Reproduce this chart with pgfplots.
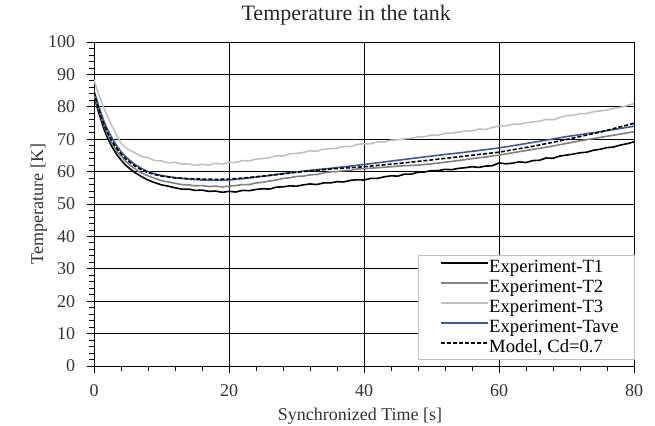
\documentclass[border=0pt]{standalone}
\usepackage{pgfplots}
\pgfplotsset{compat=1.18}
\usepackage{fontspec}
\setmainfont{Liberation Serif}
\definecolor{tave}{HTML}{3A5BA0}
\definecolor{ttwo}{HTML}{808080}
\definecolor{tthree}{HTML}{C0C0C0}
\begin{document}
\begin{tikzpicture}
\begin{axis}[
  scale only axis,
  width=405pt, height=243pt,
  xmin=0, xmax=80, ymin=0, ymax=100,
  xtick={0,20,...,80}, ytick={0,10,...,100},
  minor x tick num=4, minor y tick num=4,
  tick align=outside,
  major tick length=5pt, minor tick length=3.5pt,
  tick style={black, line width=0.6pt},
  xtick pos=bottom, ytick pos=left,
  grid=major,
  major grid style={black, line width=0.6pt},
  axis line style={black, line width=0.6pt},
  /pgf/number format/assume math mode=true,
  tick label style={font=\fontsize{13.5}{15}\selectfont, text=black!80},
  yticklabel style={anchor=east, inner sep=0pt, xshift=-9pt},
  xticklabel style={anchor=base, inner sep=0pt, yshift=-18pt},
  label style={font=\fontsize{13.5}{15}\selectfont, text=black!80},
  title style={font=\fontsize{16.5}{18}\selectfont, text=black!85,
    at={(axis description cs:0.467,1.0432)}, anchor=base, inner sep=0pt},
  title={Temperature in the tank},
  xlabel={Synchronized Time [s]},
  ylabel={Temperature [K]},
  xlabel style={at={(axis description cs:0.4926,-0.1667)}, anchor=base, inner sep=0pt},
  ylabel style={at={(axis description cs:-0.0944,0.5)}, anchor=base, inner sep=0pt},
  legend style={at={(rel axis cs:1.0015,0.0185)}, anchor=south east,
    draw=black!25, fill=white, font=\fontsize{14}{15}\selectfont,
    inner xsep=12pt, inner ysep=2pt, row sep=1pt, column sep=0.5pt,
    nodes={inner sep=0pt, text height=10.5pt, text depth=3.5pt},
    cells={anchor=west}},
  legend image code/.code={\path (0pt,0pt); \draw[#1] (4.5pt,3.5pt) -- (39.5pt,3.5pt);},
]
\addplot[black, line width=1.2pt] coordinates {
(0,83.5)(0.5,79.5)(1,76.2)(1.5,73)(2,70.4)(2.5,68.3)(3,66.5)(3.5,64.9)(4,63.6)(4.5,62.4)(5,61.4)(6,59.8)(7,58.5)(8,57.4)(9,56.6)(10,55.9)(11,55.5)(12,55.0)(13,54.6)(14,54.6)(15,54.2)(16,54.3)(17,53.9)(18,54.0)(19,53.6)(20,53.9)(21,53.7)(22,54.2)(23,54.1)(24,54.5)(25,54.7)(26,54.6)(27,55.2)(28,55.3)(29,55.6)(30,55.5)(31,55.9)(32,56.2)(33,56.0)(34,56.5)(35,56.5)(36,56.9)(37,56.8)(38,57.3)(39,57.5)(40,57.4)(41,57.9)(42,57.9)(43,58.4)(44,58.7)(45,58.6)(46,59.2)(47,59.2)(48,59.8)(49,59.9)(50,60.3)(51,60.3)(52,60.7)(53,60.6)(54,61.0)(55,61.2)(56,61.5)(57,61.3)(58,61.7)(59,61.8)(60,62.7)(61,62.4)(62,62.6)(63,63.0)(64,62.8)(65,63.4)(66,63.5)(67,64.2)(68,64.1)(69,64.8)(70,65.1)(71,65.4)(72,65.8)(73,66.0)(74,66.6)(75,66.9)(76,67.4)(77,67.6)(78,68.2)(79,68.6)(80,69.2)
};
\addlegendentry{Experiment-T1}
\addplot[ttwo, line width=1.2pt] coordinates {
(0,84)(0.5,80.2)(1,77)(1.5,74)(2,71.5)(2.5,69.4)(3,67.5)(3.5,66.0)(4,64.8)(4.5,63.6)(5,62.6)(6,60.9)(7,59.6)(8,58.7)(9,57.9)(10,57.2)(11,56.8)(12,56.4)(13,56.0)(14,55.9)(15,55.6)(16,55.7)(17,55.4)(18,55.5)(19,55.3)(20,55.5)(21,55.7)(22,56.0)(23,56.0)(24,56.5)(25,56.7)(26,57.1)(27,57.4)(28,57.9)(29,58.1)(30,58.5)(31,58.6)(32,59.0)(33,59.1)(34,59.6)(35,59.9)(36,60.0)(37,60.3)(38,60.4)(39,60.8)(40,60.9)(42,61.2)(44,61.5)(46,61.8)(48,62.0)(50,62.4)(52,62.9)(54,63.4)(56,64.0)(58,64.5)(60,65.1)(62,65.8)(64,66.5)(66,67.2)(68,67.9)(70,68.7)(72,69.5)(74,70.2)(76,70.9)(78,71.6)(80,72.3)
};
\addlegendentry{Experiment-T2}
\addplot[tthree, line width=1.2pt] coordinates {
(0,88.3)(0.5,85)(1,82.2)(1.5,79.4)(2,77)(2.5,74.8)(3,72.6)(3.5,70.6)(4,68.8)(4.5,67.8)(5,66.9)(6,65.9)(7,64.7)(8,64.3)(9,63.4)(10,63.3)(11,62.7)(12,62.9)(13,62.3)(14,62.4)(15,61.9)(16,62.3)(17,62.0)(18,62.6)(19,62.3)(20,62.9)(21,62.8)(22,63.4)(23,63.3)(24,63.9)(25,64.0)(26,64.3)(27,64.9)(28,64.8)(29,65.5)(30,65.6)(31,65.9)(32,66.4)(33,66.3)(34,66.9)(35,67.1)(36,67.2)(37,67.8)(38,67.7)(39,68.4)(40,68.6)(41,68.6)(42,69.2)(43,69.1)(44,69.7)(45,69.8)(46,70.1)(47,70.3)(48,70.7)(49,70.8)(50,71.3)(51,71.2)(52,71.8)(53,71.9)(54,72.2)(55,72.5)(56,72.6)(57,73.1)(58,73.0)(59,73.6)(60,74.1)(61,74.1)(62,74.6)(63,74.6)(64,75.1)(65,75.3)(66,75.6)(67,76.1)(68,76.0)(69,76.7)(70,77.3)(71,77.4)(72,77.9)(73,77.9)(74,78.5)(75,78.7)(76,79.0)(77,79.6)(78,79.8)(79,80.4)(80,81.0)
};
\addlegendentry{Experiment-T3}
\addplot[tave, line width=1.2pt] coordinates {
(0,85)(0.5,81.5)(1,78.3)(1.5,75.4)(2,73)(2.5,71)(3,69.2)(3.5,67.6)(4,66.2)(4.5,65)(5,64)(6,62.3)(7,61)(8,60)(9,59.3)(10,58.8)(12,58.1)(14,57.7)(16,57.4)(18,57.3)(20,57.4)(22,57.8)(24,58.3)(26,58.8)(28,59.4)(30,59.9)(32,60.4)(35,61.0)(40,62.2)(45,63.5)(50,64.8)(55,66.0)(60,67.3)(65,69.0)(70,70.8)(75,72.3)(80,74.0)
};
\addlegendentry{Experiment-Tave}
\addplot[black, line width=1.2pt, dash pattern=on 3pt off 1.5pt] coordinates {
(0,84.5)(0.5,80.6)(1,77.3)(1.5,74.4)(2,72)(2.5,70)(3,68.3)(3.5,66.8)(4,65.5)(4.5,64.4)(5,63.4)(6,61.8)(7,60.6)(8,59.7)(9,59.1)(10,58.6)(12,58.1)(14,57.8)(16,57.7)(18,57.6)(20,57.7)(22,58.0)(25,58.6)(28,59.3)(30,59.8)(35,60.8)(40,61.5)(45,62.5)(50,63.6)(55,64.8)(60,66.0)(65,67.8)(70,69.9)(75,72.2)(80,74.9)
};
\addlegendentry{Model, Cd=0.7}
\end{axis}
\pgfresetboundingbox
\path[use as bounding box] ([shift={(-70.5pt,-44.25pt)}]current axis.south west) rectangle ([shift={(15.75pt,31.5pt)}]current axis.north east);
\end{tikzpicture}
\end{document}
